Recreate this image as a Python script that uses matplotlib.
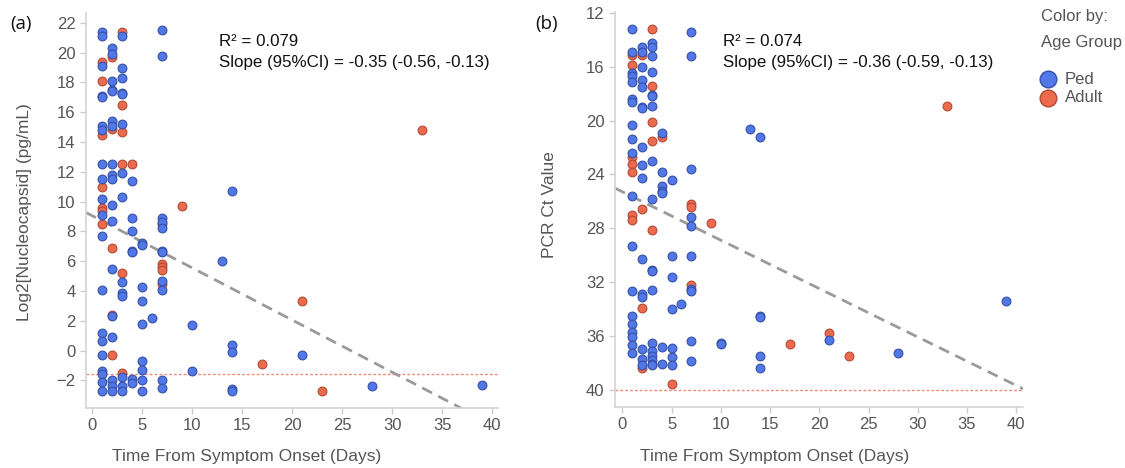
import matplotlib
matplotlib.use("Agg")
import matplotlib.pyplot as plt
from matplotlib.lines import Line2D

# ---- panel (a): Log2[Nucleocapsid] vs days ----
a_ped_x = [1] * 20 + [2] * 18 + [3] * 14 + [4] * 7 + [5] * 9 + [6] + [7] * 11 + [10] * 2 + [13] + [14] * 5 + [21, 28, 39]
a_ped_y = [21.4, 21.1, 19.1, 17.1, 17.0, 15.1, 14.8, 12.5, 11.5, 10.2, 9.1, 7.7, 4.1, 1.2, 0.65, -0.3, -1.4, -1.6, -2.1, -2.7,
           20.3, 19.9, 18.1, 17.5, 17.4, 15.4, 15.1, 12.5, 11.8, 11.5, 9.8, 8.7, 5.5, 2.3, 0.9, -2.0, -2.4, -2.7,
           21.1, 19.0, 18.3, 17.3, 17.2, 15.2, 11.9, 10.3, 4.6, 3.9, 3.7, -1.8, -2.4, -2.7,
           11.4, 8.9, 8.0, 6.7, 6.6, -1.9, -2.2,
           7.2, 7.1, 4.3, 3.3, 1.8, -0.7, -1.3, -2.0, -2.7,
           2.2,
           21.5, 19.8, 8.9, 8.6, 8.2, 6.7, 6.6, 4.7, 4.1, -2.0, -2.5,
           1.7, -1.4,
           6.0,
           10.7, 0.4, -0.1, -2.6, -2.7,
           -0.3, -2.4, -2.3]
a_adult_x = [1] * 7 + [2] * 5 + [3] * 6 + [4] + [7] * 5 + [9, 17, 21, 23, 33]
a_adult_y = [19.4, 18.1, 14.5, 11.0, 9.6, 9.4, 8.5,
             19.7, 14.9, 6.9, 2.4, -0.3,
             21.4, 16.5, 14.7, 12.5, 5.2, -1.5,
             12.5,
             8.5, 5.8, 5.6, 5.4, 4.5,
             9.7, -0.9, 3.3, -2.7, 14.8]
a_intercept, a_slope = 9.05, -0.35
a_lod = -1.6

# ---- panel (b): PCR Ct value vs days ----
b_ped_x = [1] * 19 + [2] * 16 + [3] * 18 + [4] * 7 + [5] * 7 + [6] + [7] * 10 + [10] * 2 + [13] + [14] * 5 + [21, 28, 39]
b_ped_y = [13.2, 14.9, 16.5, 16.7, 17.1, 18.4, 18.6, 20.3, 21.4, 22.4, 25.6, 29.3, 32.7, 34.5, 35.1, 35.7, 36.1, 36.7, 37.3,
           14.5, 14.9, 16.0, 17.0, 17.5, 19.0, 19.1, 22.0, 23.3, 24.3, 30.3, 32.9, 33.1, 37.0, 37.7, 38.2,
           14.2, 14.5, 15.2, 16.4, 18.1, 18.2, 18.9, 23.0, 25.8, 31.1, 31.2, 32.6, 36.5, 37.1, 37.5, 37.8, 38.1, 38.2,
           20.9, 23.8, 24.9, 25.2, 25.4, 36.8, 38.1,
           24.4, 30.1, 31.6, 34.0, 36.9, 37.6, 38.2,
           33.6,
           13.4, 15.2, 23.6, 27.2, 27.8, 30.1, 32.5, 32.7, 36.4, 37.9,
           36.5, 36.6,
           20.6,
           21.2, 34.5, 34.6, 37.5, 38.4,
           36.3, 37.3, 33.4]
b_adult_x = [1] * 7 + [2] * 4 + [3] * 5 + [4, 5] + [7] * 3 + [9, 17, 21, 23, 33]
b_adult_y = [15.1, 15.9, 22.7, 23.2, 23.8, 27.0, 27.4,
             15.1, 26.6, 33.9, 38.4,
             13.2, 17.4, 20.1, 21.5, 28.1,
             21.2, 39.6,
             26.2, 26.4, 32.2,
             27.6, 36.6, 35.8, 37.5, 18.9]
b_intercept, b_slope = 25.29, 0.36
b_lod = 40

PED, PED_EDGE = "#5178e6", "#3550a8"
ADULT, ADULT_EDGE = "#ec6a4e", "#b34a35"
GRAY = "#555555"

plt.rcParams["font.family"] = ["Liberation Sans", "DejaVu Sans"]

fig = plt.figure(figsize=(11.25, 4.68), dpi=100)
W, H = 1125, 468


def box(x0, x1, ytop, ybot):
    return [x0 / W, 1 - ybot / H, (x1 - x0) / W, (ybot - ytop) / H]


def style(ax):
    for s in ("top", "right"):
        ax.spines[s].set_visible(False)
    for s in ("left", "bottom"):
        ax.spines[s].set_color("#d4d4d4")
        ax.spines[s].set_linewidth(1.2)
    ax.tick_params(colors="#cccccc", labelcolor=GRAY, labelsize=12, length=4, width=1)
    ax.set_xticks(range(0, 41, 5))


def draw(ax, px, py, ax_, ay, intercept, slope, lod, xlim):
    ax.scatter(ax_, ay, s=40, c=ADULT, edgecolors=ADULT_EDGE, linewidths=0.8, zorder=3)
    ax.scatter(px, py, s=40, c=PED, edgecolors=PED_EDGE, linewidths=0.8, zorder=4)
    xs = [xlim[0], xlim[1]]
    ax.plot(xs, [intercept + slope * v for v in xs], ls=(0, (4, 2.5)), color="#9a9a9a", lw=2, zorder=2)
    ax.axhline(lod, color="#f08a78", lw=1, ls=(0, (2, 1.5)), zorder=1)
    ax.set_xlim(xlim)


ax1 = fig.add_axes(box(86, 498, 13, 408))
style(ax1)
draw(ax1, a_ped_x, a_ped_y, a_adult_x, a_adult_y, a_intercept, a_slope, a_lod, (-0.63, 40.57))
ax1.set_ylim(-3.85, 22.66)
ax1.set_yticks(range(-2, 23, 2))

ax2 = fig.add_axes(box(615, 1023, 12, 407))
style(ax2)
draw(ax2, b_ped_x, b_ped_y, b_adult_x, b_adult_y, b_intercept, b_slope, b_lod, (-0.74, 40.68))
ax2.set_ylim(41.29, 11.93)
ax2.set_yticks(range(12, 41, 4))

# axis titles
fig.text(247 / W, 1 - 457 / H, "Time From Symptom Onset (Days)", ha="center", va="center", fontsize=12.5, color=GRAY)
fig.text(775 / W, 1 - 457 / H, "Time From Symptom Onset (Days)", ha="center", va="center", fontsize=12.5, color=GRAY)
fig.text(25 / W, 1 - 212 / H, "Log2[Nucleocapsid] (pg/mL)", rotation=90, ha="center", va="center", fontsize=12.5, color=GRAY)
fig.text(550 / W, 1 - 205 / H, "PCR Ct Value", rotation=90, ha="center", va="center", fontsize=12.5, color=GRAY)

# panel letters
fig.text(21 / W, 1 - 24 / H, "(a)", ha="center", va="center", fontsize=13.5, color="#111111", family=["Open Sans", "DejaVu Sans"])
fig.text(547 / W, 1 - 24 / H, "(b)", ha="center", va="center", fontsize=13.5, color="#111111", family=["Open Sans", "DejaVu Sans"])

# stats
fig.text(219 / W, 1 - 42 / H, "R\u00b2 = 0.079", ha="left", va="center", fontsize=12.2, color="#111111")
fig.text(219 / W, 1 - 63 / H, "Slope (95%CI) = -0.35 (-0.56, -0.13)", ha="left", va="center", fontsize=12.2, color="#111111")
fig.text(723 / W, 1 - 42 / H, "R\u00b2 = 0.074", ha="left", va="center", fontsize=12.2, color="#111111")
fig.text(723 / W, 1 - 63 / H, "Slope (95%CI) = -0.36 (-0.59, -0.13)", ha="left", va="center", fontsize=12.2, color="#111111")

# legend
fig.text(1041 / W, 1 - 17 / H, "Color by:", ha="left", va="center", fontsize=12, color=GRAY)
fig.text(1041 / W, 1 - 42 / H, "Age Group", ha="left", va="center", fontsize=12, color=GRAY)
for yy, lab, fc, ec in [(79, "Ped", PED, PED_EDGE), (98, "Adult", ADULT, ADULT_EDGE)]:
    fig.add_artist(Line2D([1048 / W], [1 - yy / H], marker="o", markersize=12, markerfacecolor=fc,
                          markeredgecolor=ec, markeredgewidth=1, ls="none", transform=fig.transFigure))
    fig.text(1065 / W, 1 - yy / H, lab, ha="left", va="center", fontsize=12, color=GRAY)

fig.savefig("out.png", dpi=100)
